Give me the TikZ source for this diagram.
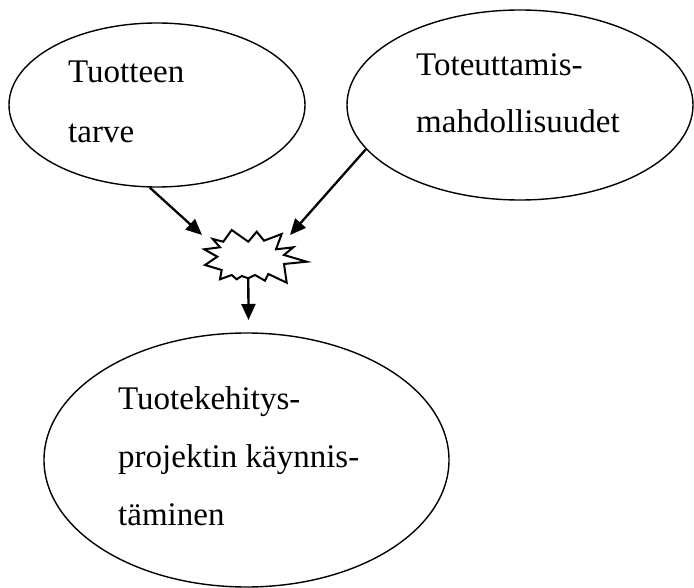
\documentclass[tikz,border=0pt]{standalone}
\usepackage{fontspec}
\setmainfont{Liberation Serif}
\usetikzlibrary{arrows.meta,shapes.geometric}
\begin{document}
\begin{tikzpicture}[x=1pt,y=-1pt,
  oval/.style={draw,ellipse,line width=1.4pt,inner sep=0pt},
  lbl/.style={anchor=base west,inner sep=0pt,font=\fontsize{33}{40}\selectfont},
  conn/.style={line width=2.3pt,-{Triangle[length=16pt,width=14pt]}},
  burst/.style={draw,line width=2pt,line join=miter,fill=white}]
\useasboundingbox (0,0) rectangle (694,588);
% ellipses
\node[oval,minimum width=296pt,minimum height=164pt] (e1) at (157,105) {};
\node[oval,minimum width=346pt,minimum height=190pt] (e2) at (520,105) {};
\node[oval,minimum width=405pt,minimum height=254pt] (e3) at (246.5,460) {};
% texts
\node[lbl] (t1a) at (68,83) {Tuotteen};
\node[lbl] (t1b) at (68,143) {tarve};
\node[lbl] (t2a) at (416,76) {Toteuttamis-};
\node[lbl] (t2b) at (416,133) {mahdollisuudet};
\node[lbl] (t3a) at (118,409) {Tuotekehitys-};
\node[lbl] (t3b) at (118,467) {projektin käynnis-};
\node[lbl] (t3c) at (118,525) {täminen};
% starburst
\draw[burst] (212.7,239) -- (223.3,241.7) -- (231.7,230) -- (248.3,241.7)
  -- (256.7,231.7) -- (264,240.7) -- (281.7,234) -- (276,249.3)
  -- (293.3,247.3) -- (284,255) -- (306.7,261.7) -- (284,264)
  -- (286.7,282.7) -- (268.3,274) -- (265,280.7) -- (255,275)
  -- (248.3,278.3) -- (241.7,276) -- (236.7,279.3) -- (231.7,275)
  -- (220,279.3) -- (221.7,270) -- (205,265) -- (217.3,256.7)
  -- (204.3,249.3) -- (220,247.3) -- cycle;
\coordinate (bs) at (248.3,278.3);
\coordinate (tipa) at (202,235);
\coordinate (tipb) at (290,235);
\coordinate (tipc) at (248.5,320);
% connectors
\draw[conn] (e1.-95) -- (tipa);
\draw[conn] (e2.196) -- (tipb);
\draw[conn] (bs) -- (tipc);
\end{tikzpicture}
\end{document}
